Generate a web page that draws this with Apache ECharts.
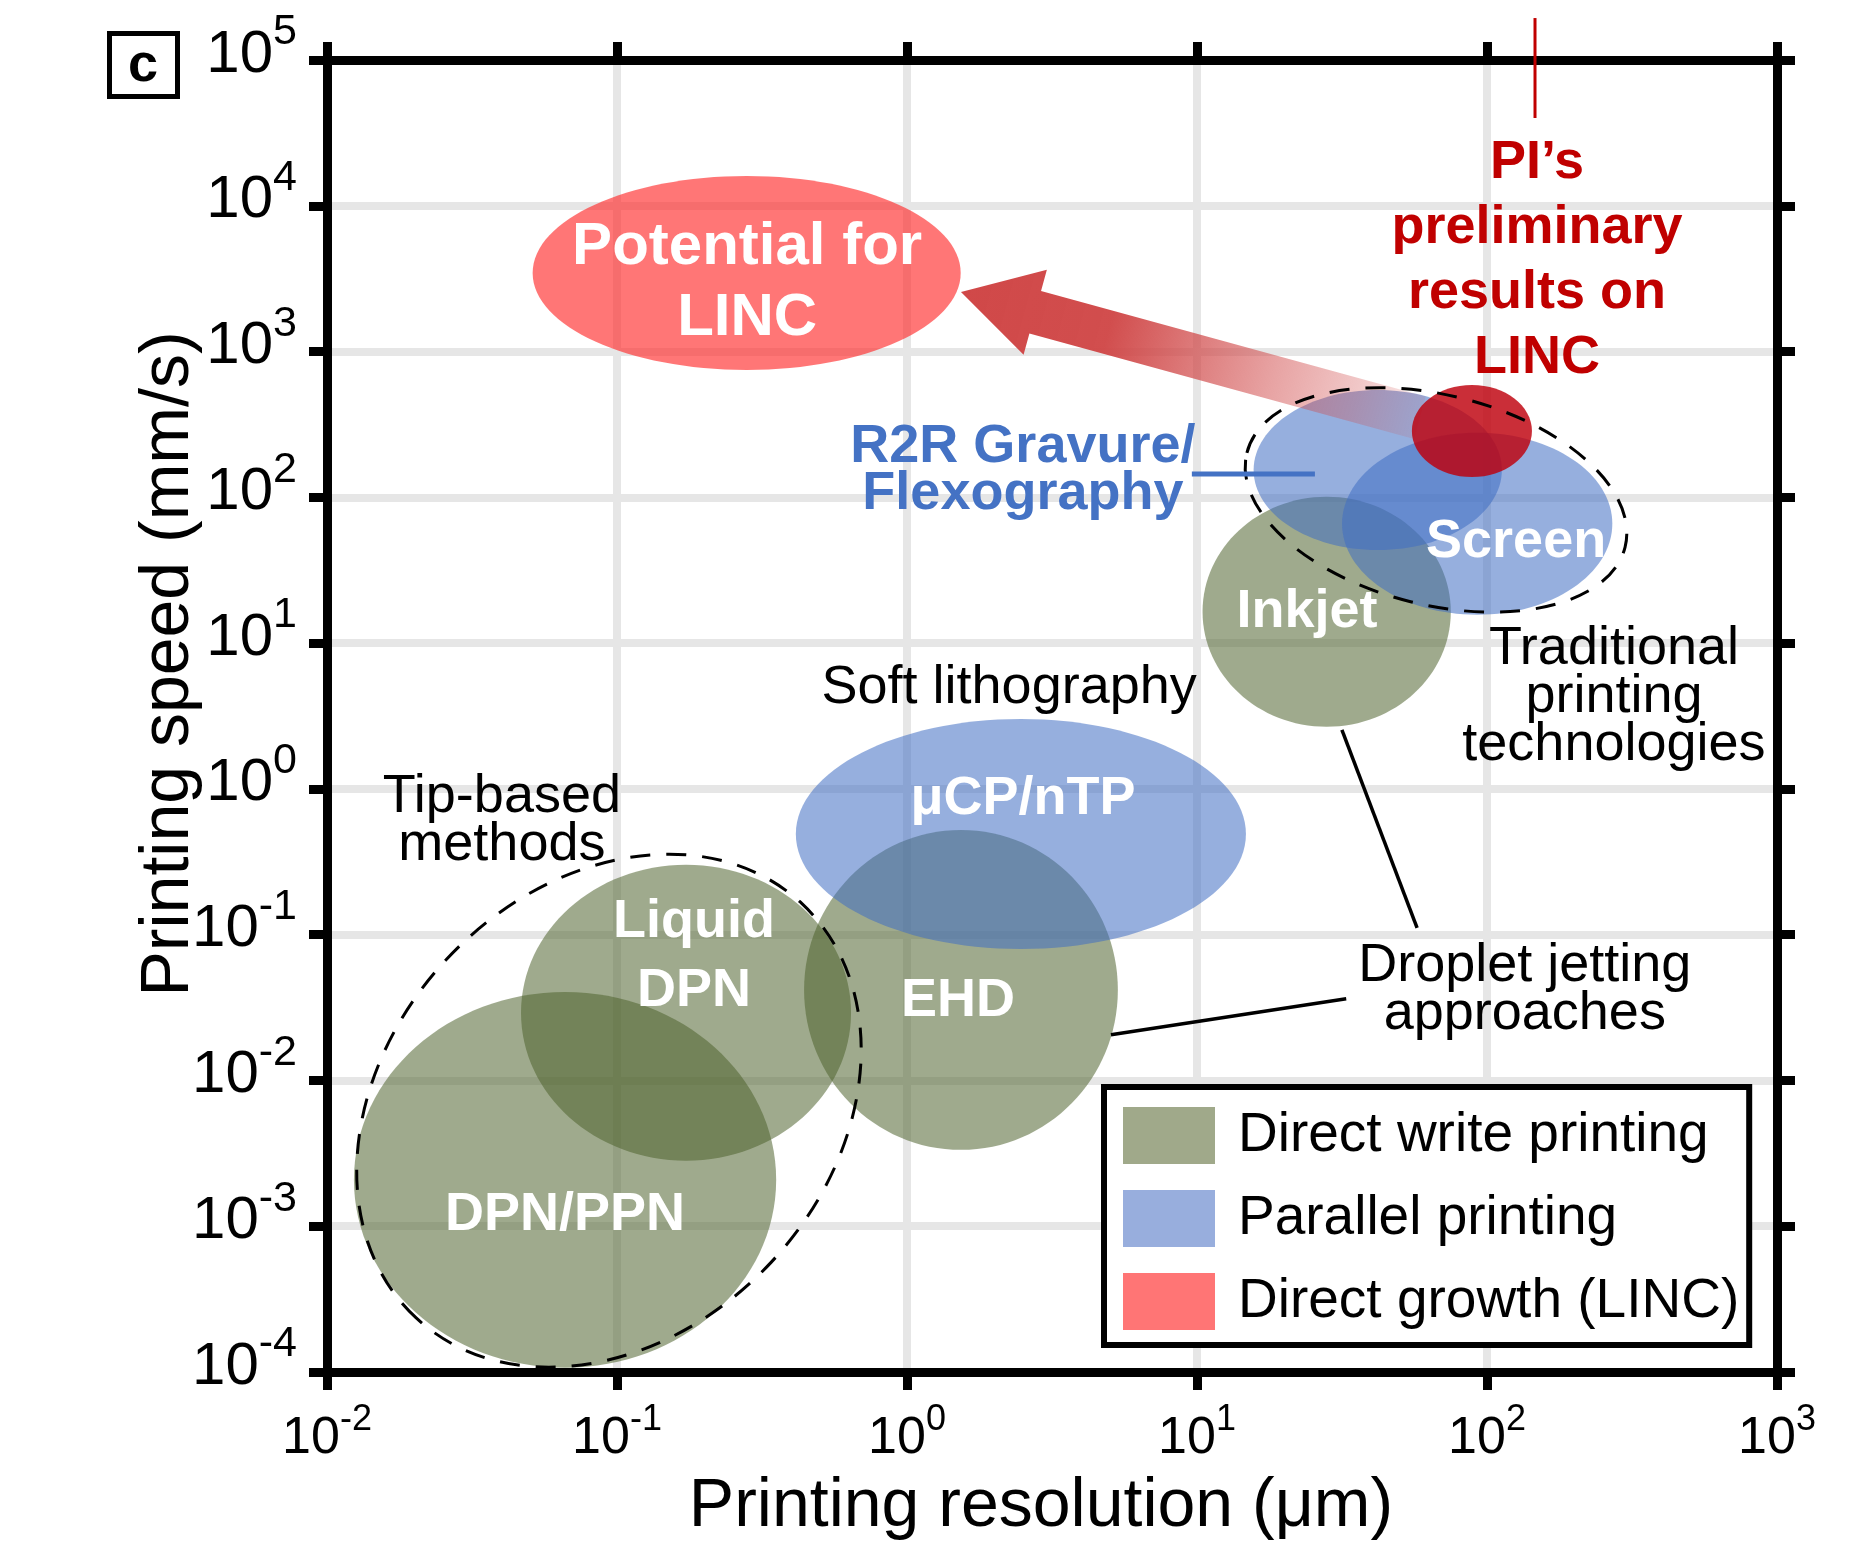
<!DOCTYPE html>
<html>
<head>
<meta charset="utf-8">
<title>Printing speed vs printing resolution</title>
<script src="https://cdn.jsdelivr.net/npm/echarts@6/dist/echarts.min.js"></script>
<style>
  html, body { margin: 0; padding: 0; background: #fff; }
  #chart { width: 1854px; height: 1550px; }
</style>
</head>
<body>
<div id="chart"></div>
<script>
// ---- data ----
// axis range, in decades
const xDecades = [-2, -1, 0, 1, 2, 3];
const yDecades = [-4, -3, -2, -1, 0, 1, 2, 3, 4, 5];

const groupNames = ['Direct write printing', 'Parallel printing', 'Direct growth (LINC)'];

// technology regions: centre resolution (um), centre speed (mm/s), half spread (decades)
const blobNames = ['DPN/PPN', 'Liquid DPN', 'EHD', 'Inkjet', 'μCP/nTP', 'R2R Gravure/Flexography', 'Screen', 'Potential for LINC', 'PI’s preliminary results'];
const blobGroup = [0, 0, 0, 0, 1, 1, 1, 2, 2];
const blobResolution = [0.0662, 0.173, 1.535, 28, 2.47, 42, 92.5, 0.28, 88.7];
const blobSpeed = [0.00208, 0.0291, 0.0418, 16.4, 0.49, 154, 65.8, 3460, 285];
const blobResSpread = [0.728, 0.569, 0.541, 0.428, 0.776, 0.428, 0.466, 0.738, 0.207];
const blobSpeedSpread = [1.289, 1.015, 1.097, 0.789, 0.789, 0.549, 0.624, 0.665, 0.316];

// dashed families around several regions
const familyNames = ['Tip-based methods', 'Traditional printing technologies'];
const familyResolution = [0.0938, 66.7];
const familySpeed = [0.0062, 96];
const familyResSpread = [0.976, 0.672];
const familySpeedSpread = [1.523, 0.72];

// text notes
const noteTexts = ['Potential for\nLINC', 'PI’s\npreliminary\nresults on\nLINC', 'R2R Gravure/\nFlexography', 'Screen', 'Inkjet',
  'Traditional\nprinting\ntechnologies', 'Soft lithography', 'μCP/nTP', 'Tip-based\nmethods', 'Liquid\nDPN', 'EHD',
  'Droplet jetting\napproaches', 'DPN/PPN'];
const noteResolution = [0.281, 148.7, 2.51, 126, 23.95, 274, 2.25, 2.51, 0.0401, 0.1843, 1.5, 135, 0.0662];
const noteSpeed = [2954, 4181, 151.7, 49.4, 16.4, 4.28, 4.93, 0.854, 0.603, 0.0705, 0.0352, 0.0418, 0.0012];

// leader lines (start / end points)
const leaderStart = [[5.05, 0.0206], [31.6, 2.54], [9.6, 144.5], [146.4, 194000]];
const leaderEnd = [[32.7, 0.0363], [57.4, 0.1114], [25.5, 144.5], [146.4, 40000]];

// arrow from preliminary results to potential
const arrowTail = [58.7, 351];
const arrowTip = [1.535, 2565];

// ---- styles ----
const FONT = "'Liberation Sans', Arial, sans-serif";
const NARROW = "'Liberation Sans Narrow', 'Arial Narrow', 'Liberation Sans', sans-serif";
const groupSwatch = ['#a0a98a', '#98aedd', '#ff7575'];
const groupFill = ['rgba(78,98,45,0.54)', 'rgba(64,110,195,0.55)', 'rgba(255,45,45,0.65)'];
const piFill = 'rgba(190,0,12,0.82)';
const familyTilt = [47, -14]; // degrees
const noteKind = ['big', 'pi', 'r2r', 'inside', 'inside', 'plain', 'plain', 'inside', 'plain', 'inside', 'inside', 'plain', 'inside'];
const kindStyle = {
  big: { fill: '#fff', fontWeight: 'bold', fontSize: 60, lineHeight: 71 },
  pi: { fill: '#c00000', fontWeight: 'bold', fontSize: 54, lineHeight: 65 },
  r2r: { fill: '#4472c4', fontWeight: 'bold', fontSize: 54, lineHeight: 47 },
  inside: { fill: '#fff', fontWeight: 'bold', fontSize: 54, lineHeight: 69 },
  plain: { fill: '#000', fontWeight: 'normal', fontSize: 54, lineHeight: 48 }
};
const leaderColor = ['#000', '#000', '#4472c4', '#c00000'];
const leaderWidth = [3.5, 3.5, 5, 3];

const chart = echarts.init(document.getElementById('chart'));

function ellipseOf(api, res, speed, rs, ss) {
  const c = api.coord([res, speed]);
  const ex = api.coord([res * Math.pow(10, rs), speed]);
  const ey = api.coord([res, speed * Math.pow(10, ss)]);
  return { cx: c[0], cy: c[1], rx: Math.abs(ex[0] - c[0]), ry: Math.abs(c[1] - ey[1]) };
}

const expLabel = v => '{b|10}{e|' + Math.round(Math.log10(v)) + '}';

const blobSeries = groupNames.map((name, g) => ({
  name: name,
  type: 'custom',
  silent: true,
  itemStyle: { color: groupSwatch[g] },
  data: blobNames.map((n, i) => i).filter(i => blobGroup[i] === g).map(i => ({
    name: blobNames[i],
    value: [blobResolution[i], blobSpeed[i], blobResSpread[i], blobSpeedSpread[i], i]
  })),
  renderItem: (params, api) => {
    const i = api.value(4);
    const e = ellipseOf(api, api.value(0), api.value(1), api.value(2), api.value(3));
    return {
      type: 'ellipse',
      shape: e,
      style: { fill: i === 8 ? piFill : groupFill[g] }
    };
  }
}));

const arrowSeries = {
  type: 'custom',
  silent: true,
  data: [[arrowTail[0], arrowTail[1], arrowTip[0], arrowTip[1]]],
  encode: { x: [0, 2], y: [1, 3] },
  renderItem: (params, api) => {
    const t = api.coord([api.value(0), api.value(1)]);
    const p = api.coord([api.value(2), api.value(3)]);
    const len = Math.hypot(p[0] - t[0], p[1] - t[1]);
    const ux = (p[0] - t[0]) / len, uy = (p[1] - t[1]) / len;
    const nx = -uy, ny = ux;
    const headLen = 77, headHalf = 44, shaftHalf = 22;
    const bx = p[0] - ux * headLen, by = p[1] - uy * headLen;
    return {
      type: 'polygon',
      shape: {
        points: [
          [t[0] + nx * shaftHalf, t[1] + ny * shaftHalf],
          [bx + nx * shaftHalf, by + ny * shaftHalf],
          [bx + nx * headHalf, by + ny * headHalf],
          [p[0], p[1]],
          [bx - nx * headHalf, by - ny * headHalf],
          [bx - nx * shaftHalf, by - ny * shaftHalf],
          [t[0] - nx * shaftHalf, t[1] - ny * shaftHalf]
        ]
      },
      style: {
        fill: {
          type: 'linear', x: p[0], y: p[1], x2: t[0], y2: t[1], global: true,
          colorStops: [
            { offset: 0, color: 'rgba(208,72,72,1)' },
            { offset: 0.32, color: 'rgba(208,72,72,0.97)' },
            { offset: 0.5, color: 'rgba(208,72,72,0.73)' },
            { offset: 0.68, color: 'rgba(208,72,72,0.5)' },
            { offset: 0.86, color: 'rgba(208,72,72,0.3)' },
            { offset: 1, color: 'rgba(208,72,72,0.12)' }
          ]
        }
      }
    };
  }
};

const familySeries = {
  type: 'custom',
  silent: true,
  data: familyNames.map((n, i) => ({
    name: n,
    value: [familyResolution[i], familySpeed[i], familyResSpread[i], familySpeedSpread[i], i]
  })),
  renderItem: (params, api) => {
    const i = api.value(4);
    const e = ellipseOf(api, api.value(0), api.value(1), api.value(2), api.value(3));
    return {
      type: 'ellipse',
      x: e.cx,
      y: e.cy,
      rotation: familyTilt[i] * Math.PI / 180,
      shape: { cx: 0, cy: 0, rx: e.rx, ry: e.ry },
      style: { fill: 'none', stroke: '#000', lineWidth: 3, lineDash: [20, 16] }
    };
  }
};

const leaderSeries = {
  type: 'custom',
  silent: true,
  data: leaderStart.map((s, i) => [s[0], s[1], leaderEnd[i][0], leaderEnd[i][1], i]),
  encode: { x: [0, 2], y: [1, 3] },
  renderItem: (params, api) => {
    const i = api.value(4);
    const a = api.coord([api.value(0), api.value(1)]);
    const b = api.coord([api.value(2), api.value(3)]);
    return {
      type: 'line',
      shape: { x1: a[0], y1: a[1], x2: b[0], y2: b[1] },
      style: { stroke: leaderColor[i], lineWidth: leaderWidth[i] }
    };
  }
};

const noteSeries = {
  type: 'custom',
  silent: true,
  z: 5,
  data: noteTexts.map((t, i) => [noteResolution[i], noteSpeed[i], i]),
  renderItem: (params, api) => {
    const i = api.value(2);
    const p = api.coord([api.value(0), api.value(1)]);
    const k = kindStyle[noteKind[i]];
    return {
      type: 'text',
      x: p[0],
      y: p[1],
      style: {
        text: noteTexts[i],
        fill: k.fill,
        fontSize: k.fontSize,
        fontWeight: k.fontWeight,
        fontFamily: FONT,
        lineHeight: k.lineHeight,
        align: 'center',
        verticalAlign: 'middle'
      }
    };
  }
};

const axisLineStyle = { show: true, lineStyle: { color: '#000', width: 9, cap: 'square' } };
const tickStyle = { show: true, length: 18, lineStyle: { color: '#000', width: 9 } };
const gridLine = { show: true, lineStyle: { color: '#e6e6e6', width: 8 } };

chart.setOption({
  animation: false,
  textStyle: { fontFamily: FONT },
  grid: { left: 327, top: 60, width: 1450, height: 1312 },
  legend: {
    data: groupNames.map(n => ({ name: n, icon: 'rect' })),
    orient: 'vertical',
    left: 1104,
    top: 1087,
    itemWidth: 92,
    itemHeight: 57,
    itemGap: 26,
    padding: [20, 10, 15, 19],
    borderColor: '#000',
    borderWidth: 6,
    backgroundColor: '#fff',
    selectedMode: false,
    textStyle: { fontSize: 55, fontFamily: FONT, color: '#000', lineHeight: 57, padding: [0, 0, 0, 18] }
  },
  graphic: [
    { type: 'rect', shape: { x: 109.5, y: 33.5, width: 68, height: 63 }, style: { fill: '#fff', stroke: '#000', lineWidth: 5 } },
    { type: 'text', x: 143, y: 66, style: { text: 'c', fontSize: 54, fontWeight: 'bold', fontFamily: FONT, fill: '#000', align: 'center', verticalAlign: 'middle' } }
  ],
  xAxis: [{
    type: 'log',
    logBase: 10,
    min: Math.pow(10, xDecades[0]),
    max: Math.pow(10, xDecades[xDecades.length - 1]),
    splitNumber: xDecades.length - 1,
    name: 'Printing resolution (μm)',
    nameLocation: 'middle',
    nameGap: 101,
    nameMoveOverlap: false,
    nameTextStyle: { fontSize: 68, fontFamily: FONT, color: '#000', padding: [0, 22, 0, 0] },
    axisLine: axisLineStyle,
    axisTick: tickStyle,
    splitLine: gridLine,
    axisLabel: {
      margin: 30,
      interval: 0,
      formatter: expLabel,
      rich: {
        b: { fontSize: 52, fontFamily: NARROW, color: '#000', lineHeight: 74 },
        e: { fontSize: 36, fontFamily: NARROW, color: '#000', verticalAlign: 'top' }
      }
    }
  }, {
    type: 'log',
    logBase: 10,
    position: 'top',
    min: Math.pow(10, xDecades[0]),
    max: Math.pow(10, xDecades[xDecades.length - 1]),
    splitNumber: xDecades.length - 1,
    axisLine: axisLineStyle,
    axisTick: tickStyle,
    splitLine: { show: false },
    axisLabel: { show: false }
  }],
  yAxis: [{
    type: 'log',
    logBase: 10,
    min: Math.pow(10, yDecades[0]),
    max: Math.pow(10, yDecades[yDecades.length - 1]),
    splitNumber: yDecades.length - 1,
    name: 'Printing speed (mm/s)',
    nameLocation: 'middle',
    nameGap: 124,
    nameMoveOverlap: false,
    nameTextStyle: { fontSize: 68, fontFamily: FONT, color: '#000', padding: [0, 0, 0, 104] },
    axisLine: axisLineStyle,
    axisTick: tickStyle,
    splitLine: gridLine,
    axisLabel: {
      margin: 30,
      interval: 0,
      padding: [0, 0, 10, 0],
      formatter: expLabel,
      rich: {
        b: { fontSize: 60, fontFamily: NARROW, color: '#000', lineHeight: 88 },
        e: { fontSize: 43, fontFamily: NARROW, color: '#000', verticalAlign: 'top' }
      }
    }
  }, {
    type: 'log',
    logBase: 10,
    position: 'right',
    min: Math.pow(10, yDecades[0]),
    max: Math.pow(10, yDecades[yDecades.length - 1]),
    splitNumber: yDecades.length - 1,
    axisLine: axisLineStyle,
    axisTick: tickStyle,
    splitLine: { show: false },
    axisLabel: { show: false }
  }],
  series: [blobSeries[0], blobSeries[1], arrowSeries, blobSeries[2], familySeries, leaderSeries, noteSeries]
});
</script>
</body>
</html>
